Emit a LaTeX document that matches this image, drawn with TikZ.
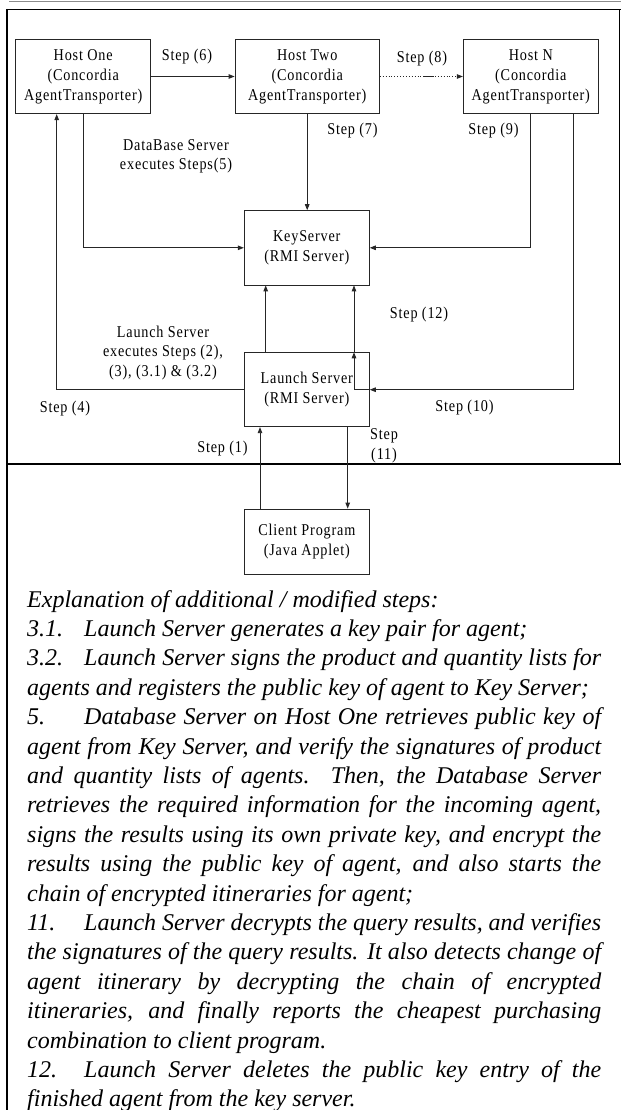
\documentclass[tikz,border=0pt]{standalone}
\usepackage{fontspec}
\setmainfont{Liberation Serif}
\newfontfamily\dfont[FakeStretch=0.86,LetterSpace=5]{Liberation Serif}
\usetikzlibrary{arrows.meta,calc}
\newcommand\ExJ[1]{\hbox to 574pt{#1}}
\newcommand\ExL[1]{\hbox to 574pt{#1\hfil}}
\newcommand\ExN[1]{\makebox[57pt][l]{#1}}
\begin{document}
\begin{tikzpicture}[x=1pt,y=-1pt,
  box/.style={draw=black!85,line width=0.9pt,rectangle,inner sep=0pt,align=center,
    font=\dfont\fontsize{16.5}{20}\selectfont},
  lbl/.style={inner sep=0pt,align=center,font=\dfont\fontsize{16.5}{19.5}\selectfont},
  ln/.style={draw=black!85,line width=0.9pt},
  arr/.style={ln,-{Triangle[length=6pt,width=4.5pt]}}]
\useasboundingbox (0,0) rectangle (621,1110);
\fill[white] (0,0) rectangle (621,1110);
% frame
\draw[black!45,line width=1pt] (9,2) -- (621,2);
\draw[black,line width=1.3pt] (7,9.3) -- (621,9.3);
\draw[black,line width=1.3pt] (619.5,9.3) -- (619.5,464);
\draw[black,line width=1.3pt] (7,464) -- (621,464);
\draw[black,line width=2.6pt] (7,9) -- (7,1110);
% boxes
\node[box,minimum width=135pt,minimum height=74.4pt] (h1) at (83.2,76.5) {Host One\\(Concordia\\AgentTransporter)};
\node[box,minimum width=144.3pt,minimum height=74.4pt] (h2) at (307.2,76.5) {Host Two\\(Concordia\\AgentTransporter)};
\node[box,minimum width=135pt,minimum height=74.4pt] (hN) at (530.8,76.5) {Host N\\(Concordia\\AgentTransporter)};
\node[box,minimum width=125pt,minimum height=74.3pt] (ks) at (306.8,247.8) {KeyServer\\(RMI Server)};
\node[box,minimum width=125pt,minimum height=74pt] (ls) at (306.8,389.7) {Launch Server\\(RMI Server)};
\node[box,minimum width=125pt,minimum height=65.3pt] (cp) at (306.8,541.7) {Client Program\\(Java Applet)};
% labels
\node[lbl] (s6) at (187,57) {Step (6)};
\node[lbl] (s8) at (422,59) {Step (8)};
\node[lbl] (s7) at (352.5,131) {Step (7)};
\node[lbl] (s9) at (493.5,131) {Step (9)};
\node[lbl] (db) at (176,156.5) {DataBase Server\\executes Steps(5)};
\node[lbl] (lx) at (163,353) {Launch Server\\executes Steps (2),\\(3), (3.1) \& (3.2)};
\node[lbl] (s12) at (419,315) {Step (12)};
\node[lbl] (s4) at (65,409) {Step (4)};
\node[lbl] (s10) at (464.5,407.5) {Step (10)};
\node[lbl] (s1) at (222.5,449) {Step (1)};
\node[lbl] (s11) at (384,446) {Step\\(11)};
% connectors
\draw[arr] (h1.east) -- (h2.west);
\draw[arr,dotted] (h2.east) -- (hN.west);
\draw[ln] ($(h2.east)!0.53!(hN.west)$) -- ($(h2.east)!0.65!(hN.west)$);
\draw[arr] (h1.south) |- (ks.west);
\draw[arr] (h2.south) -- (h2.south |- ks.north);
\draw[arr] (hN.south) |- (ks.east);
\draw[arr] ([xshift=42.5pt]hN.south) |- (ls.east);
\draw[arr] (ls.east) -| ([xshift=47.2pt]ls.north);
\draw[arr] ([xshift=47.2pt]ls.north) -- ([xshift=47.2pt]ks.south);
\draw[arr] ([xshift=-41.1pt]ls.north) -- ([xshift=-41.1pt]ks.south);
\draw[arr] (ls.west) -| ([xshift=-26.5pt]h1.south);
\draw[arr] ([xshift=-46.8pt]cp.north) -- ([xshift=-46.8pt]ls.south);
\draw[arr] ([xshift=40.9pt]ls.south) -- ([xshift=40.9pt]cp.north);
% explanation
\node[anchor=base west,inner sep=0pt] (ex) at (27,607) {\vtop{\fontsize{24}{29.4}\selectfont\itshape
  \baselineskip=29.4pt \lineskiplimit=-20pt
  \ExL{Explanation of additional / modified steps:}
  \ExL{\ExN{3.1.}Launch Server generates a key pair for agent;}
  \ExJ{\ExN{3.2.}Launch Server signs the product and quantity lists for}
  \ExL{agents and registers the public key of agent to Key Server;}
  \ExJ{\ExN{5.}Database Server on Host One retrieves public key of}
  \ExJ{agent from Key Server, and verify the signatures of product}
  \ExJ{and quantity lists of agents. Then, the Database Server}
  \ExJ{retrieves the required information for the incoming agent,}
  \ExJ{signs the results using its own private key, and encrypt the}
  \ExJ{results using the public key of agent, and also starts the}
  \ExL{chain of encrypted itineraries for agent;}
  \ExJ{\ExN{11.}Launch Server decrypts the query results, and verifies}
  \ExJ{the signatures of the query results. It also detects change of}
  \ExJ{agent itinerary by decrypting the chain of encrypted}
  \ExJ{itineraries, and finally reports the cheapest purchasing}
  \ExL{combination to client program.}
  \ExJ{\ExN{12.}Launch Server deletes the public key entry of the}
  \ExL{finished agent from the key server.}
}};
\end{tikzpicture}
\end{document}
